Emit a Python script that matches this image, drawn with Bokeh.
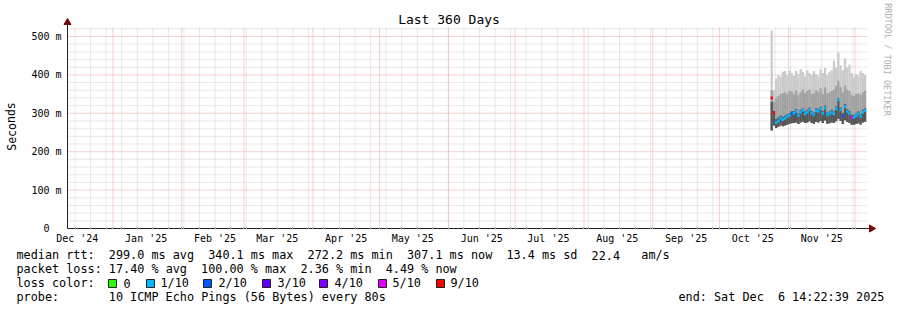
from datetime import datetime, timedelta
from bokeh.plotting import figure
from bokeh.models import FixedTicker, Range1d, ColumnDataSource
from bokeh.core.properties import value
from bokeh.embed import file_html
from bokeh.resources import INLINE

# ---------------- data ----------------
title_text = "Last 360 Days"
end_time = datetime(2025, 12, 6, 14, 22, 39)
span_days = 360
first_day = datetime(2025, 10, 24)

median_ms = [340, 302, 276, 280, 288, 284, 287, 292, 295, 299, 300, 305, 294, 303,
             308, 299, 303, 309, 300, 296, 307, 305, 312, 300, 314, 296, 299, 303,
             299, 312, 335, 309, 294, 318, 305, 300, 290, 290, 294, 299, 292, 303, 307]
loss_tenths = [9, 9, 1, 1, 1, 1, 1, 1, 1, 2, 1, 1, 1, 1,
               1, 1, 1, 1, 1, 1, 1, 1, 1, 1, 1, 1, 1, 1,
               1, 1, 1, 1, 2, 1, 1, 1, 5, 1, 1, 1, 1, 1, 1]
ping_min = [255, 268, 262, 265, 268, 266, 268, 270, 272, 274, 275, 276, 272, 276,
            278, 275, 276, 279, 275, 273, 277, 276, 280, 275, 281, 273, 274, 276,
            275, 279, 285, 280, 272, 282, 277, 275, 270, 270, 272, 274, 271, 276, 278]
ping_dark = [330, 305, 285, 289, 294, 291, 294, 298, 301, 305, 306, 311, 300, 309,
             313, 305, 309, 315, 306, 302, 313, 311, 318, 306, 320, 302, 305, 309,
             305, 318, 340, 315, 300, 324, 311, 306, 296, 296, 300, 305, 298, 309, 313]
ping_mid = [360, 330, 340, 345, 350, 352, 355, 350, 358, 356, 350, 360, 348, 355,
            362, 352, 358, 362, 350, 352, 360, 355, 365, 350, 368, 352, 355, 358,
            362, 372, 385, 368, 355, 372, 362, 358, 348, 345, 350, 352, 348, 355, 358]
ping_max = [515, 360, 390, 400, 395, 408, 410, 400, 412, 405, 398, 410, 402, 415,
            408, 396, 412, 405, 400, 410, 402, 398, 415, 405, 418, 400, 408, 412,
            437, 420, 458, 425, 412, 443, 420, 427, 405, 395, 402, 398, 410, 405, 400]

month_labels = ["Dec '24", "Jan '25", "Feb '25", "Mar '25", "Apr '25", "May '25",
                "Jun '25", "Jul '25", "Aug '25", "Sep '25", "Oct '25", "Nov '25"]
y_tick_values = [0, 100, 200, 300, 400, 500]
y_tick_labels = ["0\u00a0\u00a0", "100 m", "200 m", "300 m", "400 m", "500 m"]

loss_levels = ["0", "1/10", "2/10", "3/10", "4/10", "5/10", "9/10"]
loss_colors = ["#26ff00", "#00b8ff", "#0059ff", "#5e00ff", "#7e00ff", "#dd00ff", "#ff0000"]
loss_color_map = {0: "#26ff00", 1: "#00b8ff", 2: "#0059ff", 3: "#5e00ff",
                  4: "#7e00ff", 5: "#dd00ff", 9: "#ff0000"}

legend_rtt = "median rtt:  299.0 ms avg  340.1 ms max  272.2 ms min  307.1 ms now  13.4 ms sd  22.4   am/s"
legend_loss = "packet loss: 17.40 % avg  100.00 % max  2.36 % min  4.49 % now"
legend_color = "loss color:"
legend_probe = "probe:       10 ICMP Echo Pings (56 Bytes) every 80s"
legend_end = "end: Sat Dec  6 14:22:39 2025"
watermark = "RRDTOOL / TOBI OETIKER"
y_label = "Seconds"

# ---------------- helpers ----------------
EPOCH = datetime(1970, 1, 1)


def ms(dt):
    return (dt - EPOCH).total_seconds() * 1000.0


DAY = 86400000.0
x1 = ms(end_time)
x0 = x1 - span_days * DAY
YMAX = 523.4

W, H = 897, 310
FL, FT, FW, FH = 67, 27, 800, 201   # plot area in canvas pixels


def dx(px):
    return x0 + (px - FL) / FW * (x1 - x0)


def dy(py):
    return (FT + FH - py) * YMAX / FH


month_starts = []
mid_months = []
y, m = 2024, 12
while True:
    ms_start = datetime(y, m, 1)
    mid = datetime(y, m, 16)
    if x0 < ms(ms_start) < x1:
        month_starts.append(ms(ms_start))
    if x0 < ms(mid) < x1:
        mid_months.append(ms(mid))
    if ms(ms_start) > x1:
        break
    m += 1
    if m > 12:
        m, y = 1, y + 1

sundays = []
d = datetime(2024, 12, 15)
while ms(d) < x1:
    if ms(d) > x0:
        sundays.append(ms(d))
    d += timedelta(days=7)

minor_y = [v for v in range(20, 521, 20) if v % 100 != 0]

# ---------------- figure (frame covers the whole canvas) ----------------
p = figure(width=W, height=H, output_backend="svg", toolbar_location=None,
           title=None,
           x_range=Range1d(dx(0), dx(W)), y_range=Range1d(dy(H), dy(0)),
           min_border=0)
p.outline_line_color = None
p.background_fill_color = "white"
p.border_fill_color = "white"
p.xgrid.visible = False
p.ygrid.visible = False

FONT = "DejaVu Sans Mono"

# grid lines (drawn inside the plot area only)
GRID_MINOR = "#d2d2d2"
GRID_MAJOR = "#f2a4a4"
p.segment(x0=sundays, x1=sundays, y0=[0] * len(sundays), y1=[YMAX] * len(sundays),
          line_color=GRID_MINOR, line_width=1, line_dash="1 1")
p.segment(x0=[x0] * len(minor_y), x1=[x1] * len(minor_y), y0=minor_y, y1=minor_y,
          line_color=GRID_MINOR, line_width=1, line_dash="1 1")
p.segment(x0=month_starts, x1=month_starts, y0=[0] * len(month_starts),
          y1=[YMAX] * len(month_starts),
          line_color=GRID_MAJOR, line_width=1, line_dash="1 1")
maj_y = y_tick_values[1:]
p.segment(x0=[x0] * len(maj_y), x1=[x1] * len(maj_y), y0=maj_y, y1=maj_y,
          line_color=GRID_MAJOR, line_width=1, line_dash="1 1")

# y axis
yt = FixedTicker(ticks=y_tick_values, minor_ticks=[])
yax = p.yaxis[0]
yax.fixed_location = x0
yax.bounds = (0, dy(22))
yax.ticker = yt
yax.major_label_overrides = {v: s for v, s in zip(y_tick_values, y_tick_labels)}
yax.major_tick_in = 0
yax.major_tick_out = 0
yax.minor_tick_in = 0
yax.minor_tick_out = 0
yax.major_label_standoff = 6
yax.major_label_text_font = FONT
yax.major_label_text_font_size = "10px"
yax.major_label_text_color = "black"
yax.axis_line_color = "#212121"

# x axis
xt = FixedTicker(ticks=mid_months, minor_ticks=sorted(sundays + month_starts))
xax = p.xaxis[0]
xax.fixed_location = 0
xax.bounds = (x0, dx(871))
xax.ticker = xt
xax.major_label_overrides = {int(v): s for v, s in zip(mid_months, month_labels)}
xax.major_tick_in = 0
xax.major_tick_out = 0
xax.minor_tick_in = 2
xax.minor_tick_out = 1
xax.minor_tick_line_color = "#b8b8b8"
xax.major_label_standoff = 3
xax.major_label_text_font = FONT
xax.major_label_text_font_size = "10px"
xax.major_label_text_color = "black"
xax.axis_line_color = "#212121"

# smoke
lefts = [ms(first_day + timedelta(days=i)) for i in range(len(median_ms))]
rights = [l + DAY for l in lefts]
src = ColumnDataSource(dict(
    left=lefts, right=rights, pmin=ping_min, pdark=ping_dark, pmid=ping_mid,
    pmax=ping_max, med=median_ms,
    color=[loss_color_map[v] for v in loss_tenths]))
p.quad(left="left", right="right", bottom="pmin", top="pmax", source=src,
       fill_color="#cacaca", line_color=None)
p.quad(left="left", right="right", bottom="pmin", top="pmid", source=src,
       fill_color="#a2a2a2", line_color=None)
p.quad(left="left", right="right", bottom="pmin", top="pdark", source=src,
       fill_color="#555555", line_color=None)
p.segment(x0="left", x1="right", y0="med", y1="med", source=src,
          line_color="color", line_width=3)

# arrow heads at the axis ends
p.scatter(x=[x0], y=[dy(22)], marker="triangle", size=7,
          fill_color="#800000", line_color="#800000")
p.scatter(x=[dx(871)], y=[0], marker="triangle", size=7, angle=-1.5708,
          fill_color="#800000", line_color="#800000")


# texts
def add_text(txt, px, py, size="11.8px", align="left", color="black", angle=0.0):
    p.text(x=[dx(px)], y=[dy(py)], text=[txt], text_font=value(FONT),
           text_font_size=size, text_align=align, text_baseline="middle",
           text_color=color, angle=angle)


add_text(title_text, 448.5, 19, size="13px", align="center")
add_text(y_label, 11, 126, size="11.5px", align="center", angle=1.5708)
add_text(watermark, 887, 59, size="8.5px", align="center", color="#b0b0b0",
         angle=-1.5708)

CW = 7.1


def add_line(line, px0, py):
    i = 0
    n = len(line)
    while i < n:
        if line[i] == " ":
            i += 1
            continue
        j = i
        while j < n and not (line[j] == " " and (j + 1 < n and line[j + 1] == " ")):
            j += 1
        add_text(line[i:j].rstrip(), px0 + i * CW, py)
        i = j


add_line(legend_rtt, 16, 254.5)
add_line(legend_loss, 16, 268.5)
add_line(legend_color, 16, 282.5)
add_line(legend_probe, 16, 296.5)
add_line(legend_end, 678, 296.5)

box_x = [108, 146, 203, 262, 319, 378, 436]
txt_x = [123, 160, 218, 277, 334, 392, 450]
p.quad(left=[dx(b) for b in box_x], right=[dx(b + 8) for b in box_x],
       top=[dy(279)] * len(box_x), bottom=[dy(287)] * len(box_x),
       fill_color=loss_colors, line_color="#202020", line_width=1)
for lvl, tx in zip(loss_levels, txt_x):
    add_text(lvl, tx, 282.5)

open("out.html", "w").write(file_html(p, INLINE))
